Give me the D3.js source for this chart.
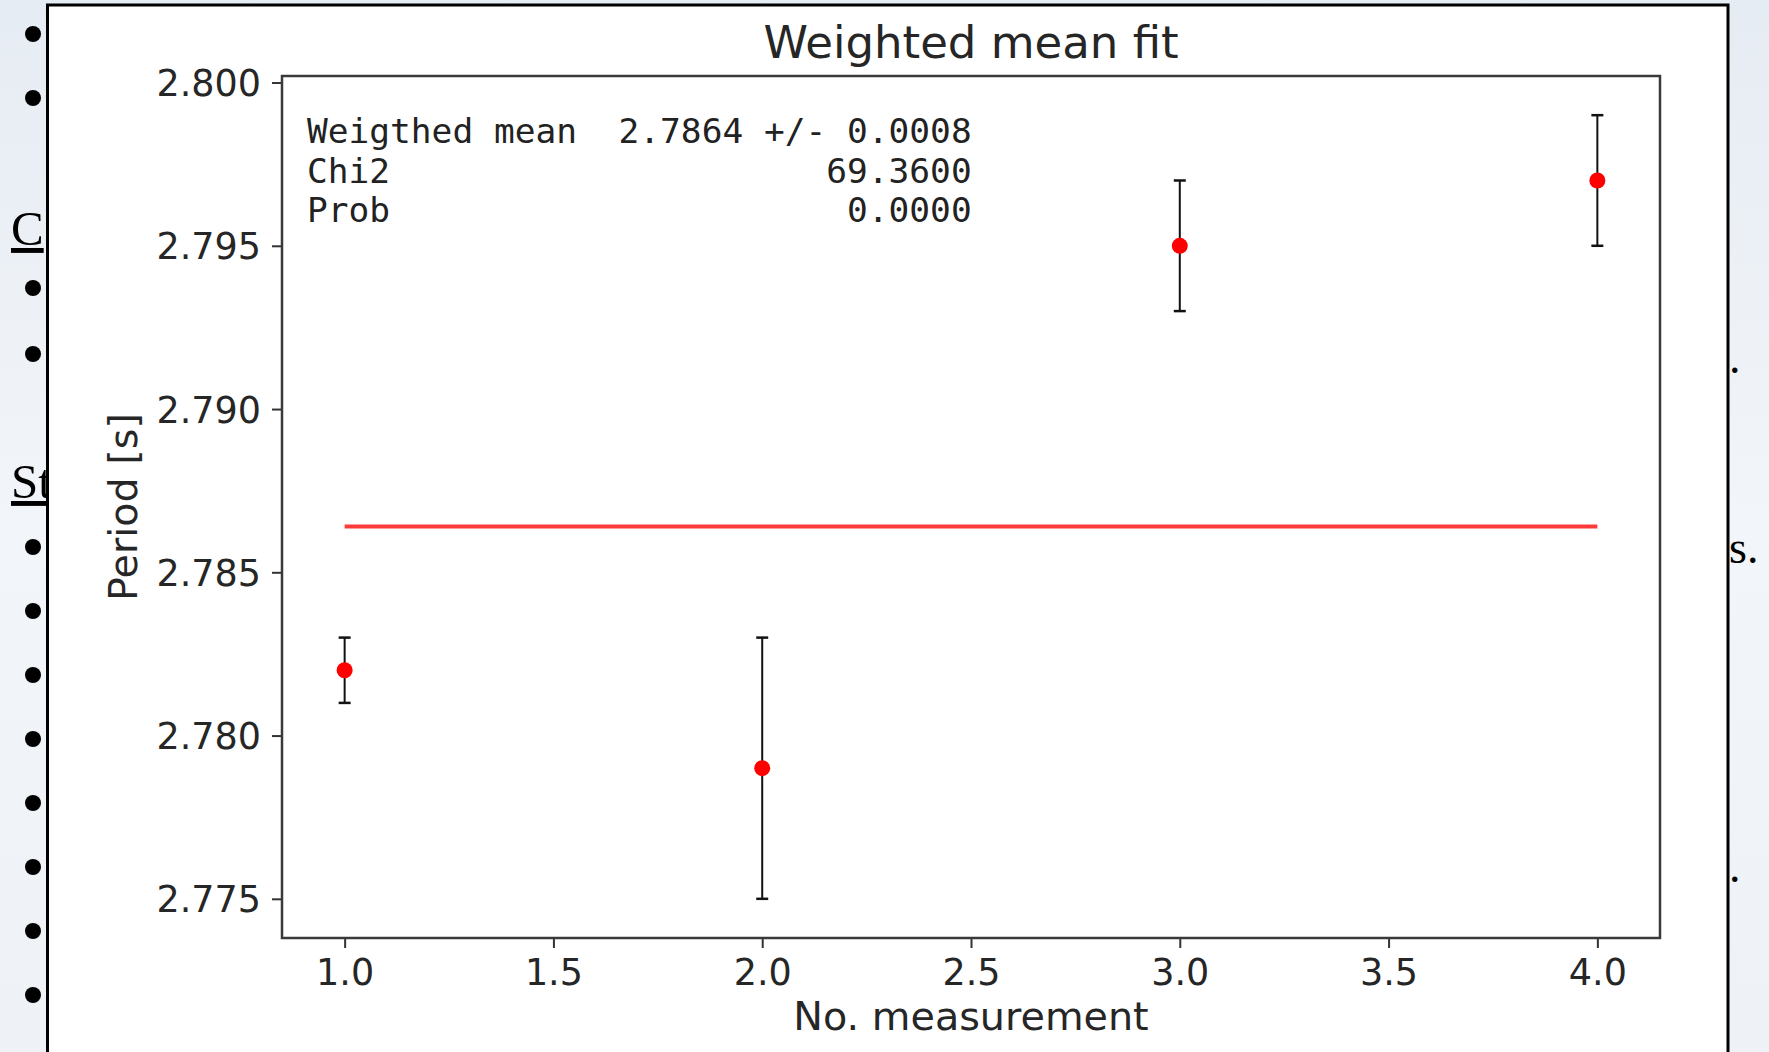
<!DOCTYPE html>
<html>
<head>
<meta charset="utf-8">
<script src="https://cdn.jsdelivr.net/npm/d3@7"></script>
<style>
  html, body { margin: 0; padding: 0; background: #ffffff; }
  svg { display: block; }
</style>
</head>
<body>
<svg id="chart" width="1769" height="1052"></svg>
<script>
// ---------------- data ----------------
const measurement = [1, 2, 3, 4];
const period = [2.782, 2.779, 2.795, 2.797];
const periodErr = [0.001, 0.004, 0.002, 0.002];
const weightedMean = 2.7864;
const fitRange = [1, 4];

const xTicks = [1.0, 1.5, 2.0, 2.5, 3.0, 3.5, 4.0];
const yTicks = [2.775, 2.780, 2.785, 2.790, 2.795, 2.800];

const titleText = "Weighted mean fit";
const xLabel = "No. measurement";
const yLabel = "Period [s]";

const statNames = ["Weigthed mean", "Chi2", "Prob"];
const statValues = ["2.7864 +/- 0.0008", "69.3600", "0.0000"];

// slide fragments around the embedded figure
const leftBulletsY = [34, 98, 288, 354, 547, 611, 675, 739, 803, 867, 931, 995];
const leftHeadings = [{t: "C", y: 245}, {t: "St", y: 498}];
const rightFragments = [{t: ".", y: 373}, {t: "s.", y: 563}, {t: ".", y: 882}];

// ---------------- layout ----------------
const svg = d3.select("#chart");
const W = 1769, H = 1052;
const frame = {left: 47.5, right: 1728, top: 5};
const plot = {left: 282, right: 1660, top: 76, bottom: 938};

// slide background
const defs = svg.append("defs");
const grad = defs.append("linearGradient").attr("id", "bg").attr("x1", 0).attr("x2", 0).attr("y1", 0).attr("y2", 1);
grad.append("stop").attr("offset", "0%").attr("stop-color", "#e6ecf3");
grad.append("stop").attr("offset", "50%").attr("stop-color", "#f2f5f9");
grad.append("stop").attr("offset", "100%").attr("stop-color", "#eef2f7");
svg.append("rect").attr("width", W).attr("height", H).attr("fill", "url(#bg)");

// slide text fragments (left)
svg.selectAll("circle.bullet").data(leftBulletsY).enter().append("circle")
  .attr("class", "bullet").attr("cx", 33).attr("cy", d => d).attr("r", 8).attr("fill", "#000");
svg.selectAll("text.head").data(leftHeadings).enter().append("text")
  .attr("class", "head").attr("x", 11).attr("y", d => d.y)
  .attr("font-family", "Liberation Serif, serif").attr("font-size", 49).attr("fill", "#000")
  .attr("text-decoration", "underline").text(d => d.t);
// right fragments
svg.selectAll("text.rfrag").data(rightFragments).enter().append("text")
  .attr("class", "rfrag").attr("x", 1729).attr("y", d => d.y)
  .attr("font-family", "Liberation Serif, serif").attr("font-size", 46).attr("fill", "#000")
  .text(d => d.t);

// figure panel
svg.append("rect").attr("x", frame.left).attr("y", frame.top)
  .attr("width", frame.right - frame.left).attr("height", H)
  .attr("fill", "#ffffff").attr("stroke", "#000").attr("stroke-width", 3);

// ---------------- scales ----------------
const xMin = d3.min(measurement), xMax = d3.max(measurement);
const xPad = (xMax - xMin) * 0.05;
const yLo = d3.min(period.map((v, i) => v - periodErr[i]));
const yHi = d3.max(period.map((v, i) => v + periodErr[i]));
const yPad = (yHi - yLo) * 0.05;

const x = d3.scaleLinear().domain([xMin - xPad, xMax + xPad]).range([plot.left, plot.right]);
const y = d3.scaleLinear().domain([yLo - yPad, yHi + yPad]).range([plot.bottom, plot.top]);

const textColor = "#262626";
const tickFont = 36.5;
const labelFont = 39.7;

// axes
const xAxis = d3.axisBottom(x).tickValues(xTicks).tickFormat(d3.format(".1f")).tickSize(10).tickPadding(11);
const yAxis = d3.axisLeft(y).tickValues(yTicks).tickFormat(d3.format(".3f")).tickSize(10).tickPadding(11);

const gx = svg.append("g").attr("transform", `translate(0,${plot.bottom})`).call(xAxis);
const gy = svg.append("g").attr("transform", `translate(${plot.left},0)`).call(yAxis);
[gx, gy].forEach(g => {
  g.select(".domain").remove();
  g.selectAll(".tick line").attr("stroke", "#333").attr("stroke-width", 2);
  g.selectAll(".tick text").attr("fill", textColor)
    .attr("font-family", "DejaVu Sans, sans-serif").attr("font-size", tickFont);
});
gy.selectAll(".tick text").attr("dy", "0.36em");

// plot frame (spines)
svg.append("rect").attr("x", plot.left).attr("y", plot.top)
  .attr("width", plot.right - plot.left).attr("height", plot.bottom - plot.top)
  .attr("fill", "none").attr("stroke", "#3a3a3a").attr("stroke-width", 2.5);

// fitted weighted-mean line
svg.append("line")
  .attr("x1", x(fitRange[0])).attr("x2", x(fitRange[1]))
  .attr("y1", y(weightedMean)).attr("y2", y(weightedMean))
  .attr("stroke", "#ff3a3a").attr("stroke-width", 4);

// error bars
const pts = measurement.map((m, i) => ({m, p: period[i], e: periodErr[i]}));
const eb = svg.append("g").attr("stroke", "#111").attr("stroke-width", 2);
eb.selectAll("line.v").data(pts).enter().append("line")
  .attr("x1", d => x(d.m)).attr("x2", d => x(d.m))
  .attr("y1", d => y(d.p - d.e)).attr("y2", d => y(d.p + d.e));
eb.selectAll("line.ct").data(pts).enter().append("line")
  .attr("x1", d => x(d.m) - 6).attr("x2", d => x(d.m) + 6)
  .attr("y1", d => y(d.p + d.e)).attr("y2", d => y(d.p + d.e)).attr("stroke-width", 2.5);
eb.selectAll("line.cb").data(pts).enter().append("line")
  .attr("x1", d => x(d.m) - 6).attr("x2", d => x(d.m) + 6)
  .attr("y1", d => y(d.p - d.e)).attr("y2", d => y(d.p - d.e)).attr("stroke-width", 2.5);

// markers
svg.selectAll("circle.pt").data(pts).enter().append("circle")
  .attr("class", "pt").attr("cx", d => x(d.m)).attr("cy", d => y(d.p))
  .attr("r", 8).attr("fill", "#ff0000");

// stats text box (monospace, padded lines)
const lineLen = 32;
const statLines = statNames.map((n, i) => n.padEnd(lineLen - statValues[i].length, " ") + statValues[i]);
svg.append("g").selectAll("text").data(statLines).enter().append("text")
  .attr("x", 307).attr("y", (d, i) => 143 + i * 39.5)
  .attr("xml:space", "preserve").style("white-space", "pre")
  .attr("font-family", "DejaVu Sans Mono, monospace").attr("font-size", 34.5)
  .attr("fill", "#222").text(d => d);

// title & labels
svg.append("text").attr("x", (plot.left + plot.right) / 2).attr("y", 58)
  .attr("text-anchor", "middle").attr("font-family", "DejaVu Sans, sans-serif")
  .attr("font-size", 45).attr("fill", textColor).text(titleText);
svg.append("text").attr("x", (plot.left + plot.right) / 2).attr("y", 1030)
  .attr("text-anchor", "middle").attr("font-family", "DejaVu Sans, sans-serif")
  .attr("font-size", labelFont).attr("fill", textColor).text(xLabel);
svg.append("text")
  .attr("transform", `translate(137,${(plot.top + plot.bottom) / 2}) rotate(-90)`)
  .attr("text-anchor", "middle").attr("font-family", "DejaVu Sans, sans-serif")
  .attr("font-size", labelFont).attr("fill", textColor).text(yLabel);
</script>
</body>
</html>
